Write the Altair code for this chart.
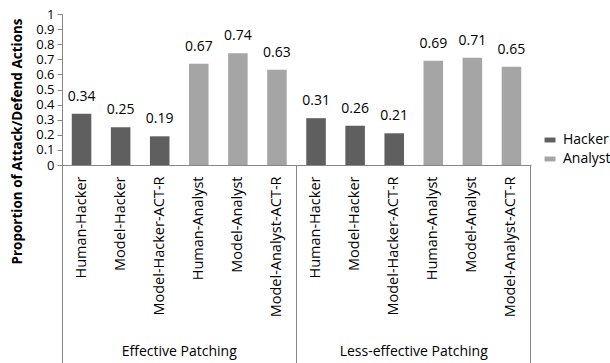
import altair as alt
import pandas as pd

groups = ["Effective Patching", "Less-effective Patching"]
labels = ["Human-Hacker", "Model-Hacker", "Model-Hacker-ACT-R",
          "Human-Analyst", "Model-Analyst", "Model-Analyst-ACT-R"]
roles = ["Hacker", "Hacker", "Hacker", "Analyst", "Analyst", "Analyst"]
effective = [0.34, 0.25, 0.19, 0.67, 0.74, 0.63]
less_effective = [0.31, 0.26, 0.21, 0.69, 0.71, 0.65]
yticks = [0, 0.1, 0.2, 0.3, 0.4, 0.5, 0.6, 0.7, 0.8, 0.9, 1]

rows = []
for g, vals in zip(groups, [effective, less_effective]):
    for lab, role, v in zip(labels, roles, vals):
        rows.append({"key": f"{g}|{lab}", "group": g, "label": lab, "role": role, "value": v})
df = pd.DataFrame(rows)
order = list(df["key"])

W, H = 469, 151
FONT = "Open Sans"
AX = "#868686"

xenc = alt.X("key:N", sort=order,
             scale=alt.Scale(paddingInner=0.5, paddingOuter=0.25),
             axis=alt.Axis(title=None, labelAngle=-90, labelAlign="right", labelBaseline="middle",
                           labelExpr="split(datum.label, '|')[1]", ticks=False,
                           labelPadding=11, labelFontSize=14.5, labelColor="#000000",
                           labelFont=FONT, domainColor=AX, labelLimit=300))

yenc = alt.Y("value:Q", scale=alt.Scale(domain=[0, 1], nice=False),
             axis=alt.Axis(title="Proportion of Attack/Defend Actions", values=yticks,
                           format="~g", grid=False, labelFontSize=13, labelFont=FONT,
                           labelColor="#000000", domainColor=AX, tickColor=AX, tickSize=5,
                           labelPadding=3, labelOverlap=False, labelFlush=False,
                           labelBound=False,
                           titleFont=FONT, titleFontSize=13.5,
                           titleFontWeight="bold", titleColor="#000000",
                           titleAngle=-90, titleX=-45, titleY=127, titleAlign="center",
                           titleBaseline="middle"))

bars = alt.Chart(df).mark_bar().encode(
    x=xenc,
    y=yenc,
    color=alt.Color("role:N", sort=["Hacker", "Analyst"],
                    scale=alt.Scale(domain=["Hacker", "Analyst"], range=["#5f5f5f", "#a5a5a5"]),
                    legend=alt.Legend(title=None, orient="none", legendX=481, legendY=119,
                                      symbolType="M-1,-0.45H1V0.45H-1Z", symbolSize=120,
                                      symbolStrokeWidth=0, labelFontSize=14, labelFont=FONT,
                                      labelColor="#000000", rowPadding=5, labelOffset=6)),
)

texts = alt.Chart(df).mark_text(dy=-17, fontSize=14, font=FONT, color="#000000").encode(
    x=xenc,
    y=yenc,
    text=alt.Text("value:Q", format=".2f"),
)

gdf = pd.DataFrame({"group": groups})
glabels = alt.layer(*[
    alt.Chart(gdf[gdf.group == g]).mark_text(fontSize=14, font=FONT, color="#000000",
                                              baseline="middle").encode(
        x=alt.value(p), y=alt.value(H + 187), text="group:N")
    for g, p in zip(groups, [W * 0.25, W * 0.75])
])

seps = alt.layer(*[
    alt.Chart(gdf.head(1)).mark_rule(color=AX, strokeWidth=1).encode(
        x=alt.value(p), y=alt.value(H), y2=alt.value(H + 200))
    for p in [0.5, W / 2, W - 0.5]
])

chart = alt.layer(bars, texts, seps, glabels).properties(
    width=W, height=H,
    autosize=alt.AutoSizeParams(type="none"),
    padding={"left": 62, "top": 14, "right": 79, "bottom": 198},
).configure(background="white").configure_view(stroke=None)

chart.save("out.html", embed_options={"renderer": "svg", "actions": False})
